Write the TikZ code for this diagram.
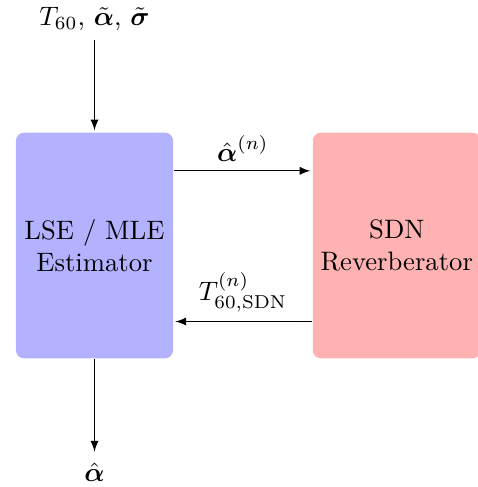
\documentclass[tikz,border=0pt]{standalone}
\usepackage{amsmath,amssymb}
\usetikzlibrary{arrows,positioning}

\tikzset{
  block/.style={rounded corners=3pt, minimum height=84.6pt, align=center, inner sep=2pt},
}

\begin{document}
\begin{tikzpicture}[>=latex, shorten >=0.7pt, auto, node distance=52pt]
    \useasboundingbox (-35.44pt,-90.56pt) rectangle (143.44pt,92.06pt);
    % Nodes {lse, sdn, input, output}
    \node [block, fill=blue!30, minimum width=58.9pt] (lse)                  {LSE / MLE\\Estimator};
    \node [block, fill=red!30, minimum width=63pt]    (sdn)   [right=of lse] {SDN\\Reverberator};
    \node                                             (input) [above=34.5pt of lse] {$T_{60}$, $\tilde{\boldsymbol{\alpha}}$, $\tilde{\boldsymbol{\sigma}}$};
    \node                                             (output)[below=35.5pt of lse] {$\hat{\boldsymbol{\alpha}}$};

    % Paths
    \path [->] (input) edge node {} (lse);
    \path [->] (lse) edge node {} (output);
    \path [->] ([yshift=28pt]lse.east) edge node [above] {$\hat{\boldsymbol{\alpha}}^{(n)}$} ([yshift=28pt]sdn.west);
    \path [->] ([yshift=-28.5pt]sdn.west) edge node [above] {$T^{(n)}_{60,\mathrm{SDN}}$} ([yshift=-28.5pt]lse.east);
\end{tikzpicture}
\end{document}
